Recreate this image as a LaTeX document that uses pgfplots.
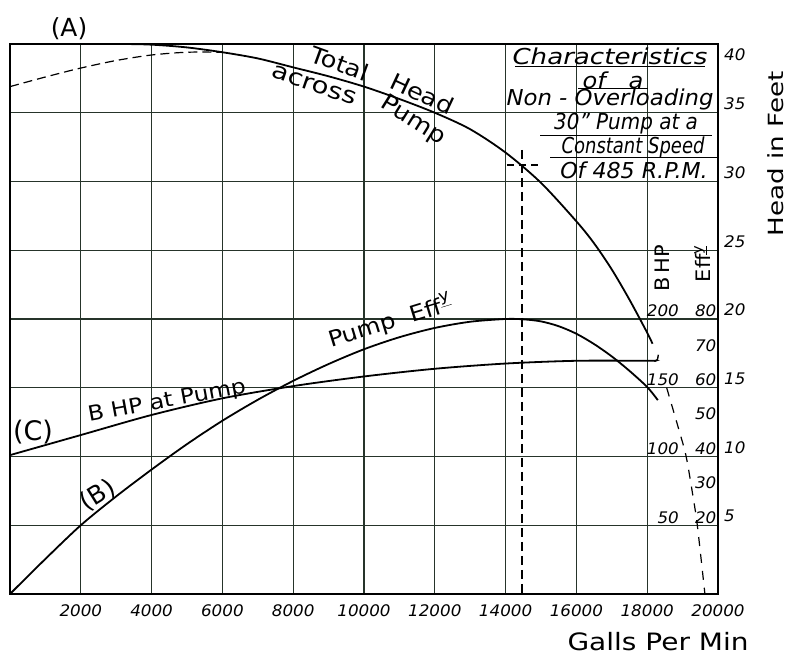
\documentclass[border=0pt]{standalone}
\usepackage{pgfplots}
\pgfplotsset{compat=1.18}
\usepackage{pgfplotstable}
\usepackage{graphicx}
\usepackage{fontspec}
\setmainfont{DejaVu Sans}
\definecolor{gridc}{RGB}{38,52,42}
\newcommand\fs[1]{\fontsize{#1}{#1}\selectfont}
\newcommand\tl[1]{\scalebox{1.05}[1]{#1}}

% Total head across pump (ft) vs gallons per minute
\pgfplotstableread{
q h
0 40.0
3000 40.0
4000 39.95
5000 39.75
6000 39.4
7000 38.95
8000 38.3
9000 37.65
10000 36.9
11000 36.0
12000 35.0
13000 33.8
14000 32.1
15000 29.9
16000 27.1
16500 25.5
17000 23.6
17500 21.4
18000 19.0
18150 18.2
}\headtab

% shut-off head (dashed)
\pgfplotstableread{
q h
0 36.9
1000 37.6
2000 38.25
3000 38.8
4000 39.2
5000 39.4
6000 39.4
}\shuttab

% head extrapolation (dashed)
\pgfplotstableread{
q h
18550 15.0
18900 11.9
19100 10.0
19300 7.0
19420 4.9
19630 0.0
}\extab

% pump efficiency (%)
\pgfplotstableread{
q eff
0 0
1000 10.2
2000 20
3000 28.4
4000 36.2
5000 43.6
6000 50.4
7000 56.5
8000 62.0
9000 66.9
10000 71.2
11000 74.7
12000 77.4
13000 79.2
14000 80.0
14500 79.9
15000 79.3
15500 77.9
16000 75.7
16500 72.7
17000 69.1
17500 64.9
18000 60.2
18300 56.4
}\efftab

% brake horse power at pump
\pgfplotstableread{
q bhp
0 101
2000 115.6
4000 130.2
6000 142.3
8000 151.2
10000 158.2
12000 163.8
14000 167.6
16000 169.6
18000 169.6
18221 169.5
}\bhptab

\tikzset{sl/.style={font=\fs{16}\itshape, anchor=east, inner sep=0pt, yshift=8bp}}

\begin{document}
\begin{tikzpicture}
\begin{axis}[
  scale only axis, width=708bp, height=550bp,
  xmin=0, xmax=20000, ymin=0, ymax=40,
  clip=false,
  scaled x ticks=false, scaled y ticks=false,
  axis line style={line width=1.4bp, black},
  grid=major,
  major grid style={gridc, line width=1.1bp},
  major tick length=0pt,
  tick style={draw=none},
  xtick={2000,4000,6000,8000,10000,12000,14000,16000,18000,20000},
  xticklabels={\tl{2000},\tl{4000},\tl{6000},\tl{8000},\tl{10000},\tl{12000},\tl{14000},\tl{16000},\tl{18000},\tl{20000}},
  ytick={5,10,15,20,25,30,35},
  yticklabels={\tl{5},\tl{10},\tl{15},\tl{20},\tl{25},\tl{30},\tl{35}},
  yticklabel pos=right,
  xticklabel style={font=\fs{16}\itshape, anchor=north, inner sep=0pt, yshift=-10bp},
  yticklabel style={font=\fs{16}\itshape, anchor=west, inner sep=0pt, xshift=6bp, yshift=9bp},
]
\coordinate (bl) at (rel axis cs:0,0);
\coordinate (tr) at (rel axis cs:1,1);

% curves
\addplot[black, line width=1.8bp, smooth] table[x=q, y=h] {\headtab};
\addplot[black, line width=1.2bp, dash pattern=on 9bp off 5bp, smooth] table[x=q, y=h] {\shuttab};
\addplot[black, line width=1.2bp, dash pattern=on 9bp off 8bp, smooth] table[x=q, y=h] {\extab};
\addplot[black, line width=1.8bp, smooth] table[x=q, y expr=\thisrow{eff}/4] {\efftab};
\addplot[black, line width=1.8bp, smooth] table[x=q, y expr=\thisrow{bhp}/10] {\bhptab};
\addplot[black, line width=1.4bp] coordinates {(18221,16.95) (18290,17.05) (18315,17.4)};

% operating point crosshair
\addplot[black, line width=1.2bp, dash pattern=on 9bp off 5bp] coordinates {(14463,32.3) (14463,0)};
\addplot[black, line width=1.2bp, dash pattern=on 7bp off 5bp] coordinates {(14040,31.2) (14916,31.2)};

% head tick 40
\node[font=\fs{16}\itshape, anchor=west, inner sep=0pt, xshift=6bp, yshift=-11bp] at (axis cs:20000,40) {\tl{40}};

% secondary scales (BHP, Efficiency)
\node[sl] at (axis cs:18900,20) {\tl{200}};
\node[sl] at (axis cs:18900,15) {\tl{150}};
\node[sl] at (axis cs:18900,10) {\tl{100}};
\node[sl] at (axis cs:18900,5) {\tl{50}};
\node[sl] at (axis cs:19960,20) {\tl{80}};
\node[sl] at (axis cs:19960,17.5) {\tl{70}};
\node[sl] at (axis cs:19960,15) {\tl{60}};
\node[sl] at (axis cs:19960,12.5) {\tl{50}};
\node[sl] at (axis cs:19960,10) {\tl{40}};
\node[sl] at (axis cs:19960,7.5) {\tl{30}};
\node[sl] at (axis cs:19960,5) {\tl{20}};
\node[font=\fs{20}, rotate=90, inner sep=0pt] at (axis cs:18419,23.7) {\scalebox{1.05}[1]{B\,HP}};
\node[font=\fs{20}, rotate=90, inner sep=0pt] at (axis cs:19560,24.0) {\scalebox{1.05}[1]{Eff\raisebox{0.45em}{\fs{14}\underline{y}}}};

% curve labels
\node[font=\fs{25}, inner sep=0pt] at (axis cs:1667,41.1) {(A)};
\node[font=\fs{27}, inner sep=0pt] at (axis cs:650,11.8) {(C)};
\node[font=\fs{25}, inner sep=0pt, rotate=32] at (axis cs:2486,7.2) {(B)};
\node[font=\fs{21}, inner sep=0pt, rotate=10.5] at (axis cs:4436,13.96) {\scalebox{1.12}[1]{B HP at Pump}};
\node[font=\fs{22}, inner sep=0pt, rotate=17] at (axis cs:10735,19.8) {\scalebox{1.12}[1]{Pump\ \ Eff\raisebox{0.5em}{\fs{16}\underline{y}}}};
\node[font=\fs{23}, inner sep=0pt, rotate=-20] at (axis cs:9322,38.6) {\scalebox{1.12}[1]{Total}};
\node[font=\fs{23}, inner sep=0pt, rotate=-25] at (axis cs:11639,36.4) {\scalebox{1.12}[1]{Head}};
\node[font=\fs{23}, inner sep=0pt, rotate=-19] at (axis cs:8588,37.0) {\scalebox{1.2}[1]{across}};
\node[font=\fs{23}, inner sep=0pt, rotate=-32] at (axis cs:11384,34.4) {\scalebox{1.12}[1]{Pump}};

% title block
\node[font=\fs{22}\itshape, inner sep=0pt] at (axis cs:16950,39.13) {\scalebox{1.19}[1]{Characteristics}};
\node[font=\fs{22}\itshape, inner sep=0pt] at (axis cs:17034,37.38) {\scalebox{1.1}[1]{of\ \ \ a}};
\node[font=\fs{22}\itshape, inner sep=0pt] at (axis cs:16950,36.0) {\scalebox{1.04}[1]{Non - Overloading}};
\node[font=\fs{22}\itshape, inner sep=0pt] at (axis cs:17402,34.18) {\scalebox{0.91}[1]{30" Pump at a}};
\node[font=\fs{22}\itshape, inner sep=0pt] at (axis cs:17600,32.5) {\scalebox{0.82}[1]{Constant Speed}};
\node[font=\fs{22}\itshape, inner sep=0pt] at (axis cs:17628,30.84) {\scalebox{1.01}[1]{Of 485 R.P.M.}};
\draw[line width=1bp] (axis cs:14266,38.33) -- (axis cs:19634,38.33);
\draw[line width=1bp] (axis cs:16046,36.73) -- (axis cs:18024,36.73);
\draw[line width=1bp] (axis cs:14973,33.38) -- (axis cs:19832,33.38);
\draw[line width=1bp] (axis cs:15255,31.71) -- (axis cs:19973,31.71);

% axis titles
\node[font=\fs{24}, inner sep=0pt] at (axis cs:18306,-3.49) {\scalebox{1.17}[1]{Galls Per Min}};
\node[font=\fs{21}, inner sep=0pt, rotate=90] at (axis cs:21640,32.0) {\scalebox{1.25}[1]{Head in Feet}};
\end{axis}
\pgfresetboundingbox
\path[use as bounding box] ([shift={(-10bp,-62bp)}]bl) rectangle ([shift={(71bp,44bp)}]tr);
\end{tikzpicture}
\end{document}
